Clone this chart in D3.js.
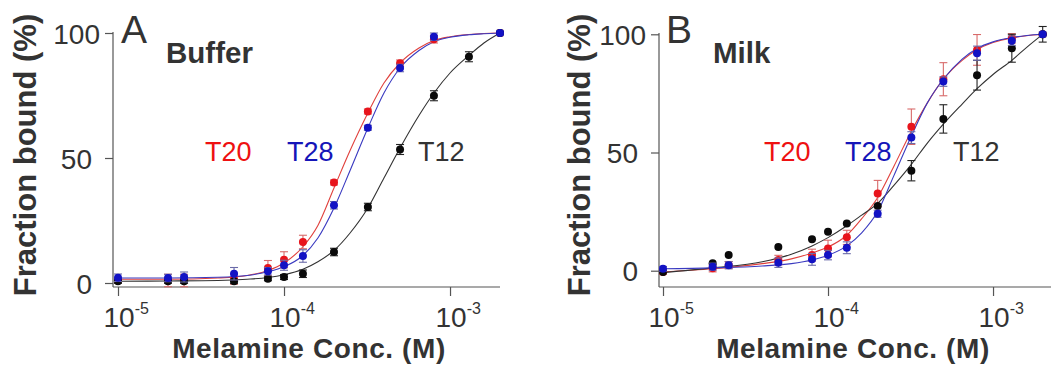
<!DOCTYPE html>
<html><head><meta charset="utf-8">
<script src="https://cdn.jsdelivr.net/npm/d3@7"></script>
<style>
html,body{margin:0;padding:0;background:#fff;}
svg{display:block;font-family:"Liberation Sans",Arial,sans-serif;}
</style></head>
<body><svg id="chart" width="1051" height="367"></svg>
<script>
// ---------- data ----------
const conc = [1e-5, 2e-5, 2.5e-5, 5e-5, 8e-5, 1e-4, 1.3e-4, 2e-4, 3.2e-4, 5e-4, 8e-4, 1.3e-3, 2e-3];
const fitConc = [1e-5, 2e-5, 4e-5, 6e-5, 8e-5, 1e-4, 1.3e-4, 1.6e-4, 2e-4, 2.5e-4, 3.2e-4, 4e-4, 5e-4, 6.5e-4, 8e-4, 1e-3, 1.3e-3, 1.6e-3, 2e-3];
const xTicks = [1e-5, 1e-4, 1e-3];
const xTickExp = ["-5", "-4", "-3"];
const yTicks = [0, 50, 100];
const seriesNames = ["T20", "T12", "T28"];

// Panel A: Buffer
const bufT20 = [1, 1, 1, 1.5, 6, 9.3, 16.4, 40.2, 68.6, 87.9, 97.5, null, 100];
const bufT20Err = [1, 2.5, 2.5, 2, 3, 3.2, 2.7, 1, 1, 1.3, 1.5, null, 1];
const bufT28 = [2.1, 2, 2.4, 3.7, 4.7, 7.1, 10.8, 31.1, 62.1, 86, 98.5, null, 100];
const bufT28Err = [1.5, 1.5, 2, 2.5, 1.5, 2, 2.5, 1.5, 1, 1.5, 1.5, null, 1];
const bufT12 = [0.7, 0.7, 0.7, 0.7, 1.7, 2.4, 3.7, 12.4, 30.4, 53.4, 74.9, 90.5, 100];
const bufT12Err = [0.8, 0.8, 0.8, 0.8, 0.8, 1, 1.5, 1.5, 1.5, 2, 2, 2, 1];
const bufFitT20 = [1.5, 1.5, 2, 3, 5, 8, 14.5, 23, 38, 53, 68, 80, 88, 94, 97, 98.5, 99.4, 99.8, 100];
const bufFitT28 = [2, 2, 2.3, 3, 4.5, 6.5, 11, 18, 30, 45, 62, 76, 86, 93, 96.5, 98.3, 99.3, 99.7, 100];
const bufFitT12 = [0.7, 0.8, 1, 1.5, 2.2, 3.3, 5.5, 8.5, 13, 20, 30, 42, 54, 67, 76, 84, 91, 96, 100];

// Panel B: Milk
const milkT20 = [-0.5, 1, 2.4, 4.5, 6.6, 9.4, 14.1, 32.7, 60.9, 81, 93.4, 98.3, 100];
const milkT20Err = [1, 1.5, 1.5, 2, 2.5, 3.5, 3, 5.5, 7.5, 7, 6.5, 2, 0.5];
const milkT28 = [0.8, 1.7, 2.3, 3.4, 4.8, 6.6, 9.7, 24.1, 56.3, 80, 92, 97.3, 100];
const milkT28Err = [1, 1.5, 1.5, 2, 2.5, 2, 2.5, 1.5, 2.5, 2, 3, 2, 1];
const milkT12 = [-0.5, 3.1, 6.6, 10, 13.3, 16.5, 20, 27.4, 42.3, 64.2, 82.7, 94.1, 100];
const milkT12Err = [0, 0, 0, 0, 0, 0, 0, 0, 4.3, 6, 6.3, 5.9, 3.3];
const milkFitT20 = [-0.5, 0.8, 3, 5, 7.5, 10, 15, 22, 31, 44, 59, 71, 81, 89, 93.5, 96.5, 98.5, 99.4, 100];
const milkFitT28 = [0.8, 1.2, 2, 3, 4.5, 6.5, 10.5, 16, 25, 40, 57, 71, 81, 89.5, 94, 96.8, 98.6, 99.5, 100];
const milkFitT12 = [-0.8, 1.2, 3.8, 7, 10.5, 14, 19, 23.5, 28.5, 36, 45, 54, 62, 70.5, 77, 83, 89, 94.5, 100];

// ---------- styles ----------
const pointColor = {T20: "#e8141c", T28: "#1212c4", T12: "#0a0a0a"};
const lineColor = {T20: "#e0403c", T28: "#3a3ac0", T12: "#333333"};
const errColor = {T20: "#d86a6a", T28: "#6a6aa8", T12: "#222222"};
const labelColor = {T20: "#ee1111", T28: "#1515b8", T12: "#333333"};
const textCol = "#333";
const axisCol = "#555";

const svg = d3.select("#chart");

const panels = [
  {letter: "A", title: "Buffer", x0: 118, x1: 500, axisX: 113, axisRight: 500,
   y0: 283, y100: 33, axisTop: 32, axisBottom: 287,
   ylabX: 36, xlabX: 309,
   data: {T20: [bufT20, bufT20Err, bufFitT20], T28: [bufT28, bufT28Err, bufFitT28], T12: [bufT12, bufT12Err, bufFitT12]},
   labels: {T20: 205, T28: 287, T12: 418}, titleX: 166, letterX: 121},
  {letter: "B", title: "Milk", x0: 663, x1: 1042.7, axisX: 659, axisRight: 1051,
   y0: 270.7, y100: 34.3, axisTop: 33, axisBottom: 287,
   ylabX: 590, xlabX: 853,
   data: {T20: [milkT20, milkT20Err, milkFitT20], T28: [milkT28, milkT28Err, milkFitT28], T12: [milkT12, milkT12Err, milkFitT12]},
   labels: {T20: 764, T28: 845, T12: 953}, titleX: 713, letterX: 666}
];

panels.forEach(p => {
  const g = svg.append("g");
  const x = d3.scaleLog().domain([1e-5, 2e-3]).range([p.x0, p.x1]);
  const y = d3.scaleLinear().domain([0, 100]).range([p.y0, p.y100]);

  // axis lines
  g.append("line").attr("x1", p.axisX).attr("x2", p.axisX).attr("y1", p.axisTop).attr("y2", p.axisBottom)
    .attr("stroke", axisCol).attr("stroke-width", 1.2);
  g.append("line").attr("x1", p.axisX).attr("x2", p.axisRight).attr("y1", p.axisBottom).attr("y2", p.axisBottom)
    .attr("stroke", axisCol).attr("stroke-width", 1.2);

  // y axis
  const ya = g.append("g").attr("transform", `translate(${p.axisX},0)`)
    .call(d3.axisLeft(y).tickValues(yTicks).tickSize(8).tickPadding(13).tickSizeOuter(0));
  ya.select(".domain").remove();
  ya.selectAll(".tick line").attr("stroke", axisCol).attr("stroke-width", 1.2);
  ya.selectAll(".tick text").attr("font-size", 28).attr("fill", textCol)
    .attr("font-family", "Liberation Sans, Arial, sans-serif")
    .attr("dx", d => d === 100 ? 8 : 0).attr("dy", "0.36em");

  // x axis
  const xa = g.append("g").attr("transform", `translate(0,${p.axisBottom})`)
    .call(d3.axisBottom(x).tickValues(xTicks).tickSize(9).tickSizeOuter(0).tickFormat(""));
  xa.select(".domain").remove();
  xa.selectAll(".tick line").attr("stroke", axisCol).attr("stroke-width", 1.2);
  xa.selectAll(".tick text").remove();
  xa.selectAll(".tick").append("text")
    .attr("y", 40).attr("x", -15).attr("text-anchor", "start")
    .attr("font-size", 28).attr("fill", textCol)
    .attr("font-family", "Liberation Sans, Arial, sans-serif")
    .each(function(d, i) {
      const t = d3.select(this);
      t.append("tspan").text("10");
      t.append("tspan").attr("dy", -13).attr("font-size", 16).text(xTickExp[i]);
    });

  // curves
  const line = d3.line().x((d, i) => x(fitConc[i])).y(d => y(d)).curve(d3.curveMonotoneX);
  ["T20", "T12", "T28"].forEach(s => {
    g.append("path").attr("d", line(p.data[s][2])).attr("fill", "none")
      .attr("stroke", lineColor[s]).attr("stroke-width", 1.1);
  });

  // points + error bars
  seriesNames.forEach(s => {
    const [vals, errs] = p.data[s];
    const pts = vals.map((v, i) => ({c: conc[i], v, e: errs[i]})).filter(d => d.v !== null);
    const eg = g.append("g");
    pts.filter(d => d.e > 0).forEach(d => {
      const cx = x(d.c), ya1 = y(d.v + d.e), ya2 = y(d.v - d.e);
      eg.append("line").attr("x1", cx).attr("x2", cx).attr("y1", ya1).attr("y2", ya2)
        .attr("stroke", errColor[s]).attr("stroke-width", 1.1);
      [ya1, ya2].forEach(yy => eg.append("line").attr("x1", cx - 4).attr("x2", cx + 4)
        .attr("y1", yy).attr("y2", yy).attr("stroke", errColor[s]).attr("stroke-width", 1.1));
    });
    g.append("g").selectAll("circle").data(pts).join("circle")
      .attr("cx", d => x(d.c)).attr("cy", d => y(d.v)).attr("r", 4)
      .attr("fill", pointColor[s]);
  });

  // series labels
  Object.entries(p.labels).forEach(([s, lx]) => {
    g.append("text").attr("x", lx).attr("y", 161).attr("font-size", 27)
      .attr("fill", labelColor[s]).text(s);
  });

  // panel letter & title
  g.append("text").attr("x", p.letterX).attr("y", 43).attr("font-size", 39).attr("fill", textCol).text(p.letter);
  g.append("text").attr("x", p.titleX).attr("y", 63).attr("font-size", 29.5).attr("font-weight", "bold")
    .attr("fill", textCol).text(p.title);

  // axis titles
  g.append("text").attr("transform", `translate(${p.ylabX},155) rotate(-90)`)
    .attr("text-anchor", "middle").attr("font-size", 31).attr("font-weight", "bold")
    .attr("fill", textCol).text("Fraction bound (%)");
  g.append("text").attr("x", p.xlabX).attr("y", 358).attr("text-anchor", "middle")
    .attr("font-size", 28).attr("letter-spacing", 0.6).attr("font-weight", "bold").attr("fill", textCol).text("Melamine Conc. (M)");
});
</script></body></html>
